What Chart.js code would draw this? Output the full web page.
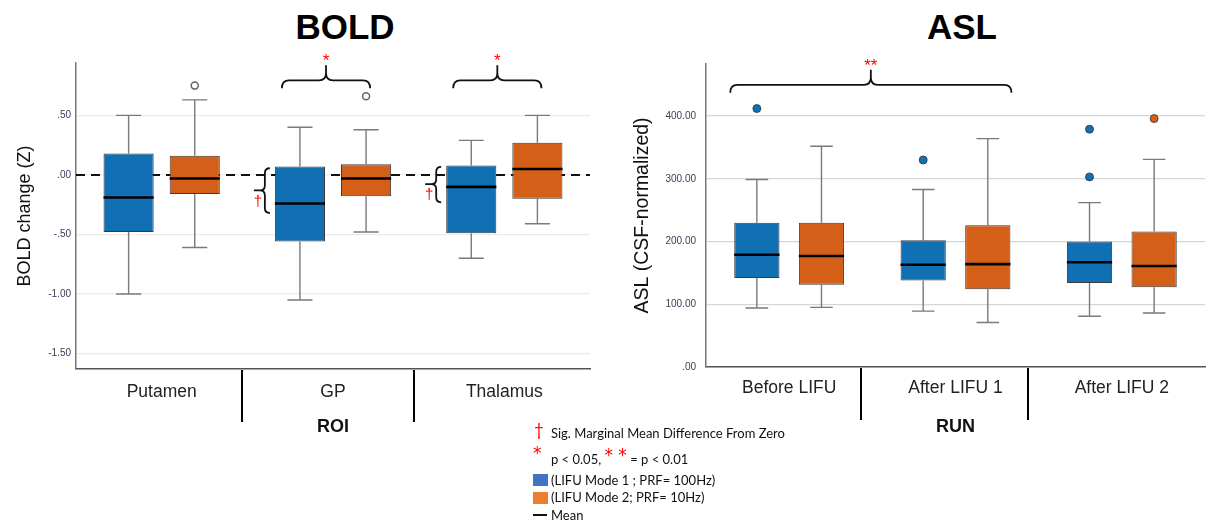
<!DOCTYPE html>
<html>
<head>
<meta charset="utf-8">
<script src="https://cdn.jsdelivr.net/npm/chart.js@4.4.0/dist/chart.umd.min.js"></script>
<style>
  body { margin: 0; width: 1209px; height: 523px; position: relative; background: #fff; overflow: hidden; }
  .abs { position: absolute; }
  .title { font: bold 35px "Liberation Sans", Arial, sans-serif; line-height: 35px; text-align: center; width: 200px; color: #000; }
  .leg { font: 13px Lato, "Open Sans", sans-serif; color: #111; line-height: 16px; white-space: nowrap; }
  .red { color: #ff0000; }
  .star { font-family: "DejaVu Sans", sans-serif; font-size: 17px; }
</style>
</head>
<body>
<div class="abs title" style="left:245px; top:9px;">BOLD</div>
<div class="abs title" style="left:862px; top:9px;">ASL</div>
<div class="abs" style="left:0; top:0; width:600px; height:445px;"><canvas id="boldChart"></canvas></div>
<div class="abs" style="left:600px; top:0; width:609px; height:445px;"><canvas id="aslChart"></canvas></div>

<!-- legend -->
<div class="abs leg red" style="left:534px; top:421px; font-size:17px; line-height:18px;">†</div>
<div class="abs leg" style="left:551px; top:425px;">Sig. Marginal Mean Difference From Zero</div>
<div class="abs leg red star" style="left:533px; top:444px; line-height:18px;">*</div>
<div class="abs leg" style="left:551px; top:450px;">p &lt; 0.05, <span class="red star" style="position:relative; top:-3px;">* *</span> = p &lt; 0.01</div>
<div class="abs" style="left:533px; top:474px; width:15px; height:12px; background:#4472c4;"></div>
<div class="abs leg" style="left:551px; top:472px;">(LIFU Mode 1 ; PRF= 100Hz)</div>
<div class="abs" style="left:533px; top:492px; width:15px; height:12px; background:#ed7d31;"></div>
<div class="abs leg" style="left:551px; top:489px;">(LIFU Mode 2; PRF= 10Hz)</div>
<div class="abs" style="left:533px; top:514px; width:14px; height:2px; background:#111;"></div>
<div class="abs leg" style="left:551px; top:507px;">Mean</div>

<script>
// five-number summaries: [min, q1, median, q3, max]
const roiLabels = ['Putamen', 'GP', 'Thalamus'];
const boldMode1 = [[-1.00, -0.48, -0.19, 0.18, 0.50], [-1.05, -0.56, -0.24, 0.07, 0.40], [-0.70, -0.49, -0.10, 0.08, 0.29]];
const boldMode1Out = [[], [], []];
const boldMode2 = [[-0.61, -0.16, -0.03, 0.16, 0.63], [-0.48, -0.18, -0.03, 0.09, 0.38], [-0.41, -0.20, 0.05, 0.27, 0.50]];
const boldMode2Out = [[0.75], [0.66], []];
const boldTicks = [-1.5, -1.0, -0.5, 0, 0.5];

const runLabels = ['Before LIFU', 'After LIFU 1', 'After LIFU 2'];
const aslMode1 = [[94, 142, 179, 230, 299], [89, 138, 163, 202, 283], [81, 134, 167, 200, 262]];
const aslMode1Out = [[412], [330], [379, 303]];
const aslMode2 = [[95, 131, 177, 230, 352], [71, 124, 164, 226, 364], [86, 127, 161, 216, 331]];
const aslMode2Out = [[], [], [396]];
const aslTicks = [0, 100, 200, 300, 400];

// significance brackets: categories spanned, y of bracket ends, label
const boldSig = [{from: 1, to: 1, y: 0.727, label: '*'}, {from: 2, to: 2, y: 0.727, label: '*'}];
const aslSig = [{from: 0, to: 1, y: 437, label: '**'}];
// marginal mean braces on mode 1 boxes: [top, tip, bottom]
const boldMarginal = [{cat: 1, v: [0.056, -0.13, -0.32]}, {cat: 2, v: [0.067, -0.078, -0.23]}];

const BLUE = '#1170b3';
const ORANGE = '#d35f18';
Chart.defaults.font.family = '"Liberation Sans", Arial, sans-serif';

function fmt(v) {
  return v.toFixed(2).replace(/^(-?)0\./, '$1.');
}

function hBrace(ctx, x1, x2, yEnd) {
  const yMid = yEnd - 8, yTip = yEnd - 23, r = 7, xm = (x1 + x2) / 2;
  ctx.beginPath();
  ctx.moveTo(x1, yEnd);
  ctx.quadraticCurveTo(x1, yMid, x1 + r, yMid);
  ctx.lineTo(xm - r, yMid);
  ctx.quadraticCurveTo(xm, yMid, xm, yMid - r);
  ctx.lineTo(xm, yTip);
  ctx.moveTo(xm, yMid - r);
  ctx.quadraticCurveTo(xm, yMid, xm + r, yMid);
  ctx.lineTo(x2 - r, yMid);
  ctx.quadraticCurveTo(x2, yMid, x2, yEnd);
  ctx.stroke();
  return yTip;
}

function vBrace(ctx, x, yTop, yTip, yBot) {
  const r = 5;
  ctx.beginPath();
  ctx.moveTo(x + r, yTop);
  ctx.quadraticCurveTo(x, yTop, x, yTop + r);
  ctx.lineTo(x, yTip - r);
  ctx.quadraticCurveTo(x, yTip, x - r, yTip);
  ctx.lineTo(x - 11, yTip);
  ctx.moveTo(x - r, yTip);
  ctx.quadraticCurveTo(x, yTip, x, yTip + r);
  ctx.lineTo(x, yBot - r);
  ctx.quadraticCurveTo(x, yBot, x + r, yBot);
  ctx.stroke();
}

const boxExtras = {
  id: 'boxExtras',
  beforeDatasetsDraw(chart, args, opts) {
    const {ctx, chartArea, scales: {y}} = chart;
    ctx.save();
    if (opts.zeroLine) {
      const y0 = y.getPixelForValue(0);
      ctx.setLineDash([9, 6]);
      ctx.lineWidth = 2;
      ctx.strokeStyle = '#111';
      ctx.beginPath();
      ctx.moveTo(chartArea.left, y0);
      ctx.lineTo(chartArea.right, y0);
      ctx.stroke();
      ctx.setLineDash([]);
    }
    // whiskers
    chart.data.datasets.forEach((ds, d) => {
      chart.getDatasetMeta(d).data.forEach((bar, i) => {
        const s = ds.stats[i];
        const cap = bar.width / 4;
        const pMin = y.getPixelForValue(s[0]), pMax = y.getPixelForValue(s[4]);
        ctx.strokeStyle = '#7a7a7a';
        ctx.lineWidth = 1.4;
        ctx.beginPath();
        ctx.moveTo(bar.x, y.getPixelForValue(s[1]));
        ctx.lineTo(bar.x, pMin);
        ctx.moveTo(bar.x - cap, pMin);
        ctx.lineTo(bar.x + cap, pMin);
        ctx.moveTo(bar.x, y.getPixelForValue(s[3]));
        ctx.lineTo(bar.x, pMax);
        ctx.moveTo(bar.x - cap, pMax);
        ctx.lineTo(bar.x + cap, pMax);
        ctx.stroke();
      });
    });
    ctx.restore();
  },
  afterDatasetsDraw(chart, args, opts) {
    const {ctx, chartArea, scales: {x, y}} = chart;
    ctx.save();
    // medians and outliers
    chart.data.datasets.forEach((ds, d) => {
      chart.getDatasetMeta(d).data.forEach((bar, i) => {
        const pm = y.getPixelForValue(ds.stats[i][2]);
        ctx.strokeStyle = '#000';
        ctx.lineWidth = 2.6;
        ctx.beginPath();
        ctx.moveTo(bar.x - bar.width / 2, pm);
        ctx.lineTo(bar.x + bar.width / 2, pm);
        ctx.stroke();
        ds.outliers[i].forEach(v => {
          ctx.beginPath();
          ctx.arc(bar.x, y.getPixelForValue(v), opts.hollow ? 3.5 : 4, 0, Math.PI * 2);
          if (opts.hollow) {
            ctx.fillStyle = '#fff';
            ctx.fill();
            ctx.strokeStyle = '#666';
            ctx.lineWidth = 1.5;
          } else {
            ctx.fillStyle = ds.backgroundColor;
            ctx.fill();
            ctx.strokeStyle = '#333';
            ctx.lineWidth = 0.8;
          }
          ctx.stroke();
        });
      });
    });
    // category separators below the axis
    const n = chart.data.labels.length;
    ctx.strokeStyle = '#000';
    ctx.lineWidth = 2;
    for (let i = 0; i < n - 1; i++) {
      const px = Math.round((x.getPixelForValue(i) + x.getPixelForValue(i + 1)) / 2 + opts.sepShift);
      ctx.beginPath();
      ctx.moveTo(px, chartArea.bottom + 1);
      ctx.lineTo(px, chartArea.bottom + opts.sepLength);
      ctx.stroke();
    }
    // significance braces
    const m1 = chart.getDatasetMeta(0).data, m2 = chart.getDatasetMeta(1).data;
    ctx.lineWidth = 1.8;
    ctx.strokeStyle = '#111';
    (opts.sig || []).forEach(s => {
      const a = m1[s.from], b = m2[s.to];
      const x1 = a.x - a.width / 2 + opts.inset[0];
      const x2 = b.x + b.width / 2 - opts.inset[1];
      const tip = hBrace(ctx, x1, x2, y.getPixelForValue(s.y));
      ctx.fillStyle = '#ff0000';
      ctx.font = '17px "Liberation Sans", Arial, sans-serif';
      ctx.textAlign = 'center';
      ctx.textBaseline = 'middle';
      ctx.fillText(s.label, (x1 + x2) / 2, tip - 4);
    });
    // marginal-mean braces
    (opts.marginal || []).forEach(mg => {
      const bar = m1[mg.cat];
      const bx = bar.x - bar.width / 2 - 10;
      const yTip = y.getPixelForValue(mg.v[1]);
      ctx.strokeStyle = '#111';
      ctx.lineWidth = 1.8;
      vBrace(ctx, bx, y.getPixelForValue(mg.v[0]), yTip, y.getPixelForValue(mg.v[2]));
      ctx.fillStyle = '#ff0000';
      ctx.font = '15px "Liberation Sans", Arial, sans-serif';
      ctx.textAlign = 'center';
      ctx.textBaseline = 'middle';
      ctx.fillText('†', bx - 7, yTip + 11);
    });
    ctx.restore();
  }
};

function boxDatasets(s1, o1, s2, o2) {
  return [
    {label: 'LIFU Mode 1', data: s1.map(s => [s[1], s[3]]), stats: s1, outliers: o1,
     backgroundColor: BLUE, borderColor: '#3a3a3a', borderWidth: 1, borderSkipped: false},
    {label: 'LIFU Mode 2', data: s2.map(s => [s[1], s[3]]), stats: s2, outliers: o2,
     backgroundColor: ORANGE, borderColor: '#3a3a3a', borderWidth: 1, borderSkipped: false}
  ];
}

function makeChart(id, cfg) {
  return new Chart(document.getElementById(id).getContext('2d'), {
    type: 'bar',
    data: {labels: cfg.labels, datasets: cfg.datasets},
    options: {
      responsive: true,
      maintainAspectRatio: false,
      animation: false,
      categoryPercentage: cfg.catPct,
      barPercentage: cfg.barPct,
      layout: {padding: {top: cfg.top, right: cfg.right, left: 0, bottom: 0}},
      plugins: {
        legend: {display: false},
        tooltip: {enabled: false},
        boxExtras: cfg.extras
      },
      scales: {
        x: {
          grid: {display: false, drawTicks: false},
          border: {display: true, color: '#555', width: 1.5},
          ticks: {font: {size: 17.5}, color: '#222', padding: cfg.xPad},
          title: {display: true, text: cfg.xTitle, font: {size: 18, weight: 'bold'}, color: '#111', padding: {bottom: 7}},
          afterFit: s => { s.height = cfg.xHeight; }
        },
        y: {
          min: cfg.min,
          max: cfg.max,
          afterBuildTicks: s => { s.ticks = cfg.ticks.map(v => ({value: v})); },
          grid: {color: cfg.gridColor, lineWidth: 1.2, drawTicks: false},
          border: {display: true, color: '#777', width: 1.5},
          ticks: {font: {size: 10}, color: '#3b3b58', padding: cfg.yPad, callback: v => fmt(v)},
          title: {display: true, text: cfg.yTitle, font: {size: cfg.yTitleSize}, color: '#111', padding: {top: cfg.yTitlePad, bottom: 0}},
          afterFit: s => { s.width = cfg.yWidth; }
        }
      }
    },
    plugins: [boxExtras]
  });
}

const boldChart = makeChart('boldChart', {
  labels: roiLabels,
  datasets: boxDatasets(boldMode1, boldMode1Out, boldMode2, boldMode2Out),
  catPct: 0.772, barPct: 0.758,
  top: 63, right: 10, xHeight: 76, yWidth: 76,
  xPad: 13, yPad: 5,
  min: -1.63, max: 0.94, ticks: boldTicks,
  gridColor: '#ebebeb',
  xTitle: 'ROI', yTitle: 'BOLD change (Z)', yTitleSize: 18, yTitlePad: 14,
  extras: {zeroLine: true, hollow: true, sepLength: 53, sepShift: -5, inset: [7, 21], sig: boldSig, marginal: boldMarginal}
});

const aslChart = makeChart('aslChart', {
  labels: runLabels,
  datasets: boxDatasets(aslMode1, aslMode1Out, aslMode2, aslMode2Out),
  catPct: 0.777, barPct: 0.70,
  top: 64, right: 4, xHeight: 78, yWidth: 106,
  xPad: 11, yPad: 10,
  min: 0, max: 483, ticks: aslTicks,
  gridColor: '#d6d6d6',
  xTitle: 'RUN', yTitle: 'ASL (CSF-normalized)', yTitleSize: 19.5, yTitlePad: 31,
  extras: {zeroLine: false, hollow: false, sepLength: 53, sepShift: -11, inset: [-4, -1], sig: aslSig}
});
</script>
</body>
</html>
